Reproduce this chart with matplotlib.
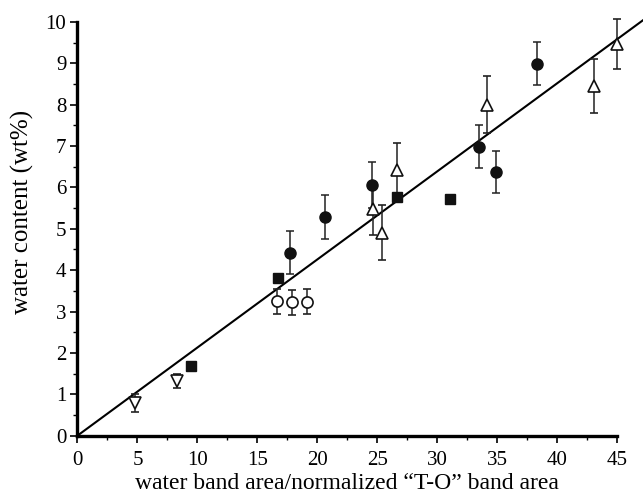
import matplotlib
matplotlib.use('Agg')
import matplotlib.pyplot as plt
from matplotlib.ticker import MultipleLocator
import numpy as np

plt.rcParams['font.family'] = ['Liberation Serif', 'DejaVu Serif']

# filled circles (with error bars)
fc_x = [17.7, 20.6, 24.55, 33.5, 34.85, 38.3]
fc_y = [4.42, 5.29, 6.06, 6.98, 6.37, 8.99]
fc_e = [0.52, 0.53, 0.55, 0.52, 0.51, 0.52]

# filled squares (no error bars)
sq_x = [9.5, 16.75, 26.6, 31.05]
sq_y = [1.68, 3.81, 5.77, 5.71]

# open circles
oc_x = [16.65, 17.9, 19.15]
oc_y = [3.25, 3.22, 3.24]
oc_e = [0.3, 0.3, 0.3]

# open up-triangles
ut_x = [24.65, 25.35, 26.6, 34.15, 43.1, 44.95]
ut_y = [5.47, 4.91, 6.41, 8.0, 8.45, 9.47]
ut_e = [0.62, 0.66, 0.67, 0.69, 0.65, 0.6]

# open down-triangles
dt_x = [4.8, 8.3]
dt_y = [0.78, 1.32]
dt_e = [0.22, 0.18]

# fitted line through origin
slope = 0.213
line_x = [0, 47.5]

fig = plt.figure(figsize=(6.43, 4.99), dpi=100)
ax = fig.add_axes([0.1205, 0.127, 0.8395, 0.829])

ax.plot(line_x, [slope * v for v in line_x], color='black', lw=1.5, clip_on=False, zorder=2)

ebar = dict(ecolor='#222222', elinewidth=1.1, capsize=3.2, capthick=1.1, linestyle='none', clip_on=False, zorder=3)
ax.errorbar(fc_x, fc_y, yerr=fc_e, fmt='o', ms=8, mfc='#111111', mec='#111111', **ebar)
ax.errorbar(oc_x, oc_y, yerr=oc_e, fmt='o', ms=8, mfc='white', mec='#111111', mew=1.2, **ebar)
ax.errorbar(ut_x, ut_y, yerr=ut_e, fmt='^', ms=8, mfc='white', mec='#111111', mew=1.2, **ebar)
ax.errorbar(dt_x, dt_y, yerr=dt_e, fmt='v', ms=8, mfc='white', mec='#111111', mew=1.2, **ebar)
ax.plot(sq_x, sq_y, 's', ms=7.5, color='#111111', linestyle='none', zorder=4)

ax.set_xlim(0, 45)
ax.set_ylim(0, 10)
ax.xaxis.set_major_locator(MultipleLocator(5))
ax.xaxis.set_minor_locator(MultipleLocator(2.5))
ax.yaxis.set_major_locator(MultipleLocator(1))
ax.yaxis.set_minor_locator(MultipleLocator(0.5))

for s in ['top', 'right']:
    ax.spines[s].set_visible(False)
for s in ['left', 'bottom']:
    ax.spines[s].set_linewidth(2.4)

ax.tick_params(which='major', direction='out', length=5, width=1.2, labelsize=15)
ax.tick_params(axis='x', which='major', pad=6)
ax.tick_params(axis='y', which='major', pad=3)
ax.tick_params(which='minor', direction='out', length=3, width=1.0)

ax.set_xlabel('water band area/normalized \u201cT-O\u201d band area', fontsize=17, labelpad=2)
ax.set_ylabel('water content (wt%)', fontsize=18)
ax.yaxis.set_label_coords(-0.08, 0.54)

fig.savefig('out.png', dpi=100)
